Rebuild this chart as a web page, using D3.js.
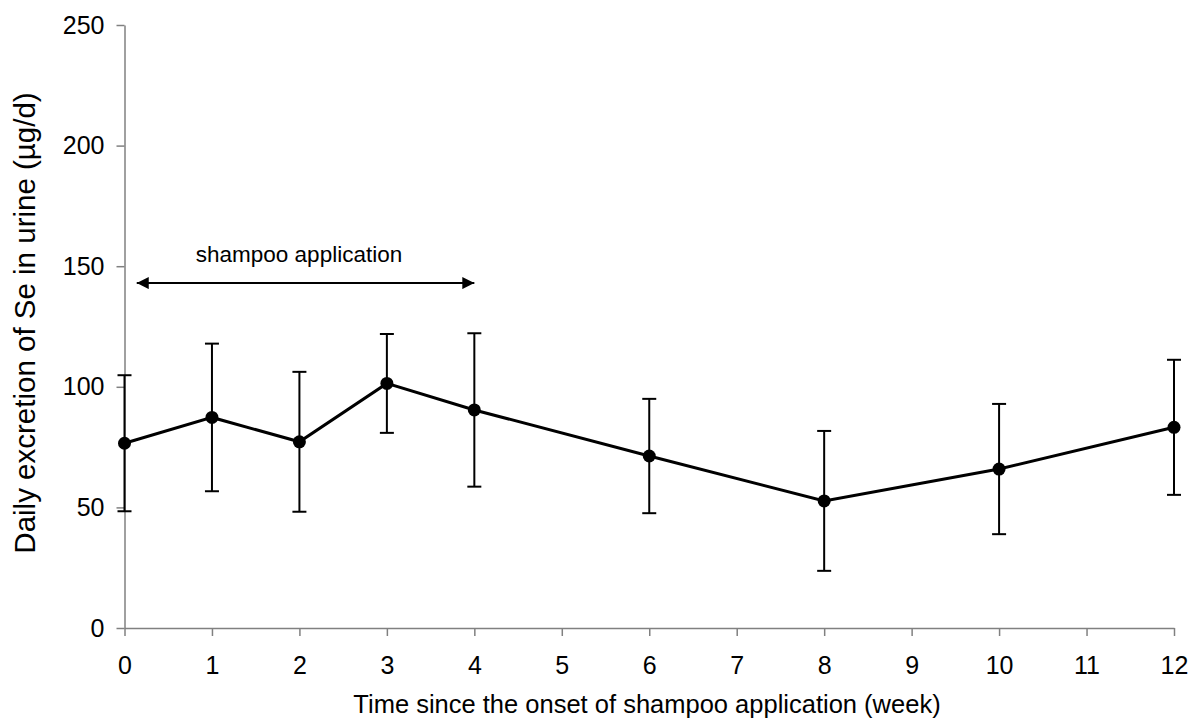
<!DOCTYPE html>
<html>
<head>
<meta charset="utf-8">
<script src="https://cdn.jsdelivr.net/npm/d3@7"></script>
<style>
  body { margin: 0; background: #fff; }
  svg { display: block; font-family: "Liberation Sans", Arial, sans-serif; }
</style>
</head>
<body>
<svg id="chart" width="1195" height="721"></svg>
<script>
// data
const weeks = [0, 1, 2, 3, 4, 6, 8, 10, 12]
const meanSe = [76.6, 87.3, 77.2, 101.4, 90.4, 71.3, 52.7, 65.9, 83.2]
const sdSe = [28.2, 30.6, 29, 20.5, 31.8, 23.7, 29, 27, 28]
const xTicks = [0, 1, 2, 3, 4, 5, 6, 7, 8, 9, 10, 11, 12]
const yTicks = [0, 50, 100, 150, 200, 250]
const shampooPeriod = [0.14, 4]
const shampooLevel = 143

const svg = d3.select("#chart")

const x = d3.scaleLinear().domain([0, 12]).range([124.5, 1174])
const y = d3.scaleLinear().domain([0, 250]).range([628, 25])

// y axis
const yAxis = svg.append("g")
    .attr("transform", `translate(${x(0)},0)`)
    .call(d3.axisLeft(y).tickValues(yTicks).tickSize(8).tickSizeOuter(0).tickPadding(12))
yAxis.select(".domain").attr("stroke", "#808080").attr("stroke-width", 1.5)
yAxis.selectAll(".tick line").attr("stroke", "#808080").attr("stroke-width", 1.5)
yAxis.selectAll(".tick text")
    .attr("font-size", 25)
    .attr("fill", "#000")
    .attr("font-family", "Liberation Sans, Arial, sans-serif")

// x axis
const xAxis = svg.append("g")
    .attr("transform", `translate(0,${y(0)})`)
    .call(d3.axisBottom(x).tickValues(xTicks).tickSize(8).tickSizeOuter(0).tickPadding(20))
xAxis.select(".domain").attr("stroke", "#808080").attr("stroke-width", 1.5)
xAxis.selectAll(".tick line").attr("stroke", "#808080").attr("stroke-width", 1.5)
xAxis.selectAll(".tick text")
    .attr("font-size", 25)
    .attr("fill", "#000")
    .attr("font-family", "Liberation Sans, Arial, sans-serif")

// axis titles
svg.append("text")
    .attr("x", 647)
    .attr("y", 713)
    .attr("text-anchor", "middle")
    .attr("font-size", 25.5)
    .text("Time since the onset of shampoo application (week)")

svg.append("text")
    .attr("transform", "translate(35,323) rotate(-90)")
    .attr("text-anchor", "middle")
    .attr("font-size", 29.5)
    .text("Daily excretion of Se in urine (µg/d)")

// shampoo period arrow
svg.append("defs").selectAll("marker")
    .data(["start", "end"])
    .enter()
    .append("marker")
    .attr("id", d => "arrow-" + d)
    .attr("viewBox", "0 0 10 10")
    .attr("refX", d => d == "end" ? 10 : 0)
    .attr("refY", 5)
    .attr("markerWidth", 16)
    .attr("markerHeight", 12)
    .attr("markerUnits", "userSpaceOnUse")
    .attr("orient", "auto")
    .append("path")
    .attr("d", d => d == "end" ? "M0,0L10,5L0,10Z" : "M10,0L0,5L10,10Z")
    .attr("fill", "#000")

svg.append("line")
    .attr("x1", x(shampooPeriod[0]))
    .attr("x2", x(shampooPeriod[1]))
    .attr("y1", y(shampooLevel))
    .attr("y2", y(shampooLevel))
    .attr("stroke", "#000")
    .attr("stroke-width", 2)
    .attr("marker-start", "url(#arrow-start)")
    .attr("marker-end", "url(#arrow-end)")

svg.append("text")
    .attr("x", 299)
    .attr("y", 262)
    .attr("text-anchor", "middle")
    .attr("font-size", 22.5)
    .text("shampoo application")

// rows for the series
const rows = weeks.map((w, i) => ({ week: w, mean: meanSe[i], sd: sdSe[i] }))

// error bars
const bars = svg.append("g")
    .selectAll("g.err")
    .data(rows)
    .enter()
    .append("g")
    .attr("class", "err")
    .attr("stroke", "#000")
    .attr("stroke-width", 2)
bars.append("line")
    .attr("x1", d => x(d.week)).attr("x2", d => x(d.week))
    .attr("y1", d => y(d.mean + d.sd)).attr("y2", d => y(d.mean - d.sd))
bars.append("line")
    .attr("x1", d => x(d.week) - 7).attr("x2", d => x(d.week) + 7)
    .attr("y1", d => y(d.mean + d.sd)).attr("y2", d => y(d.mean + d.sd))
bars.append("line")
    .attr("x1", d => x(d.week) - 7).attr("x2", d => x(d.week) + 7)
    .attr("y1", d => y(d.mean - d.sd)).attr("y2", d => y(d.mean - d.sd))

// mean line
svg.append("path")
    .datum(rows)
    .attr("fill", "none")
    .attr("stroke", "#000")
    .attr("stroke-width", 3)
    .attr("d", d3.line().x(d => x(d.week)).y(d => y(d.mean)))

// markers
svg.append("g")
    .selectAll("circle")
    .data(rows)
    .enter()
    .append("circle")
    .attr("cx", d => x(d.week))
    .attr("cy", d => y(d.mean))
    .attr("r", 6.5)
    .attr("fill", "#000")
</script>
</body>
</html>
